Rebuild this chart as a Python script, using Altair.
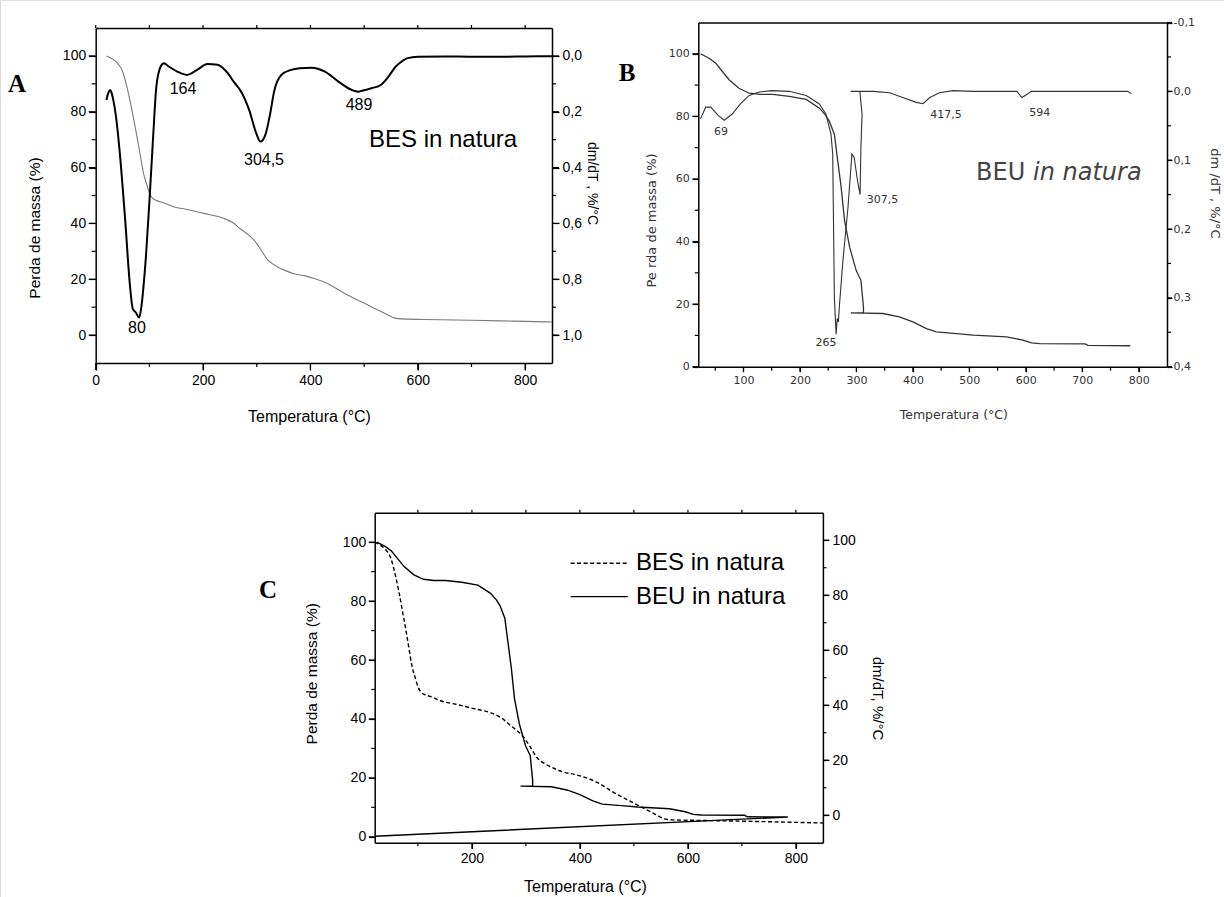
import altair as alt
import pandas as pd

# ---------------- values ----------------
# Panel A / C : BES in natura, mass loss (TG) and derivative (DTG)
bes_temp = [20, 30, 40, 50, 58, 65, 72, 77, 83, 89, 95, 100, 106, 111, 125, 145, 170, 201, 239, 255,
            270, 285, 295, 308, 320, 338, 355, 369, 390, 407, 432, 463, 494, 515, 538, 559, 580, 610, 700, 753,
            800, 850]
bes_mass = [100, 99, 97.5, 94.5, 89, 83, 76, 71, 64.5, 58, 54, 51, 49, 48.4, 47.5, 46, 45, 43.6, 41.8, 40.3,
            38, 35.8, 34, 30.5, 27, 24.5, 23, 22, 21.2, 20.3, 18.5, 15, 12, 10, 7.8, 6.0, 5.7, 5.6, 5.3, 5.1,
            4.9, 4.7]
bes_dtg_temp = [20, 24, 27, 30, 33, 38, 45, 55, 64, 69, 75, 81, 85, 89, 94, 101, 107, 113, 121, 127,
                136, 152, 170, 189, 208, 227, 246, 258, 271, 286, 299, 307, 316, 324, 333, 346, 364, 380, 402, 427,
                452, 477, 489, 496, 515, 531, 545, 559, 570, 581, 600, 650, 700, 750, 800, 850]
bes_dtg = [0.158, 0.13, 0.122, 0.135, 0.16, 0.22, 0.35, 0.59, 0.827, 0.905, 0.92, 0.937, 0.9, 0.827, 0.707,
           0.49, 0.289, 0.11, 0.038, 0.026, 0.038, 0.056, 0.068, 0.05, 0.029, 0.032, 0.062, 0.095, 0.128, 0.194,
           0.277, 0.307, 0.283, 0.217, 0.122, 0.068, 0.05, 0.044, 0.042, 0.056, 0.092, 0.122, 0.128, 0.125, 0.115,
           0.104, 0.075, 0.038, 0.02, 0.008, 0.003, 0.002, 0.003, 0.003, 0.002, 0.001]
bes_peak_temp = [76.9, 162.6, 313.5, 490.5]
bes_peak_dtg = [0.975, 0.1185, 0.373, 0.176]
bes_peak_text = ["80", "164", "304,5", "489"]
bes_name_temp = [647]
bes_name_dtg = [0.301]

# Panel B / C : BEU in natura (trace order as recorded, it doubles back near 300 °C)
beu_temp = [24, 40, 51, 62, 74.5, 92, 110, 130, 151.5, 181, 211, 234, 245, 252, 261, 267, 273, 279, 288, 299.5,
            308, 312.5, 312.5, 290, 347, 376, 400, 424, 441.5, 477, 507, 566, 595, 610, 625, 705, 710, 785]
beu_mass = [100, 98.5, 97, 94.5, 91.7, 89, 87.4, 87, 87, 86.4, 85.4, 82.7, 80.5, 78.5, 74.2, 65.7, 57.3, 46.7,
            38.2, 30.8, 27.6, 19.1, 17.2, 17.2, 17.0, 15.9, 14.3, 12.2, 11.1, 10.6, 10.1, 9.5, 8.5, 7.6, 7.4, 7.3,
            6.8, 6.7]
beu_dtg_temp = [24, 33, 42, 55, 66, 80, 95, 110, 128, 150, 181, 211, 234, 246, 255, 258, 261, 264, 266, 268,
                270, 276, 285, 292, 296, 302, 306.5, 308, 310, 306, 290, 330, 359, 382, 406, 418, 430, 447, 471,
                507, 584, 593, 601, 610, 700, 780, 787]
beu_dtg = [0.040, 0.023, 0.023, 0.035, 0.042, 0.033, 0.018, 0.006, 0.001, -0.001, 0.0, 0.006, 0.018, 0.033,
           0.062, 0.091, 0.30, 0.353, 0.33, 0.335, 0.31, 0.247, 0.169, 0.091, 0.096, 0.13, 0.150, 0.081, 0.033,
           0.0, 0.0, 0.0, 0.002, 0.009, 0.016, 0.018, 0.009, 0.002, -0.001, 0.0, 0.0, 0.009, 0.005, 0.0, 0.0,
           0.0, 0.003]
beu_peak_temp = [60.2, 246.1, 346.2, 458.6, 624.6]
beu_peak_mass = [75.1, 7.6, 53.3, 80.4, 81.2]
beu_peak_text = ["69", "265", "307,5", "417,5", "594"]
beu_name_temp = [511.8]
beu_name_italic_temp = [612.7]
beu_name_mass = [61.9]

# Panel C : the BEU trace closes with a segment back to the start
beu_c_tail_temp = [20]
beu_c_tail_mass = [0.2]
legend_names = ["BES in natura", "BEU in natura"]
legend_temp_start = [382.8, 382.8]
legend_temp_end = [488.7, 488.7]
legend_text_temp = [503.9, 503.9]
legend_level = [91.6, 79.5]

# panel letters
letter_text = ["A", "B", "C"]
letter_temp = [-146.6, -106.3, -177.6]
letter_level = [89.9, 93.9, 83.8]

# ---------------- layout / style ----------------
W, H = 1224, 897
SANS = "Liberation Sans"
SERIF = "Liberation Serif"
BFONT = "DejaVu Sans"
BGRAY = "#333333"

A_XR, A_YR = [95.7, 552.0], [363.0, 28.0]
B_XR, B_YR = [698.3, 1167.0], [366.7, 22.5]
C_XR, C_YR = [374.7, 822.9], [842.7, 512.7]


def sc(domain, rng):
    return alt.Scale(domain=domain, range=rng, zero=False, nice=False)


def ax(orient, offset, values=None, size_tick=6.0, expr=None, font=SANS, size=14, color="black",
       title=None, tx=0, ty=0, tsize=16, pad=3, labels=True):
    p = dict(orient=orient, offset=offset, grid=False, domain=True, ticks=True, tickSize=size_tick,
             tickColor="black", tickWidth=1.2, domainColor="black", domainWidth=1.5,
             labelFont=font, labelFontSize=size, labelColor=color,
             labelPadding=pad, labelOverlap=False, labelFlush=False, labels=labels)
    if values is not None:
        p["values"] = values
    if expr:
        p["labelExpr"] = expr
    if title:
        p.update(title=title, titleFont=font, titleFontSize=tsize, titleFontWeight="normal",
                 titleColor=color, titleX=tx, titleY=ty, titleAlign="center", titleBaseline="middle")
    else:
        p["title"] = None
    return alt.Axis(**p)


def ticks(values, fixed, xs, ys, side, length):
    """short tick marks drawn outward from a frame side, positioned by the panel scales"""
    if side in ("bottom", "top"):
        df = pd.DataFrame({"p": values, "q": [fixed] * len(values)})
        off = length / 2 if side == "bottom" else -length / 2
        return alt.Chart(df).mark_tick(orient="vertical", size=length, thickness=1.2, color="black",
                                       opacity=1, yOffset=off).encode(
            x=alt.X("p:Q", scale=xs, axis=None), y=alt.Y("q:Q", scale=ys, axis=None))
    df = pd.DataFrame({"q": [fixed] * len(values), "p": values})
    off = -length / 2 if side == "left" else length / 2
    return alt.Chart(df).mark_tick(orient="horizontal", size=length, thickness=1.2, color="black",
                                   opacity=1, xOffset=off).encode(
        x=alt.X("q:Q", scale=xs, axis=None), y=alt.Y("p:Q", scale=ys, axis=None))


COMMA = "replace(replace(format(datum.value, '.1f'), '.', ','), '\u2212', '-')"

layers = []

# ---------------- Panel A ----------------
dfA = pd.DataFrame({"T": bes_temp, "v": bes_mass})
dfAd = pd.DataFrame({"T": bes_dtg_temp, "d": bes_dtg})
AX = lambda: sc([0, 850], A_XR)
AYL = lambda: sc([-10, 110], A_YR)
AYR = lambda: sc([-0.1, 1.1], [28.0, 363.0])

layers.append(alt.Chart(dfA).mark_line(color="#7a7a7a", strokeWidth=1.1, interpolate="monotone").encode(
    x=alt.X("T:Q", scale=AX(), axis=ax("bottom", 363 - H, list(range(0, 801, 200)), 7,
                                        title="Temperatura (°C)", tx=309, ty=53.7)),
    y=alt.Y("v:Q", scale=AYL(), axis=ax("left", -95.7, list(range(0, 101, 20)), 7,
                                         title="Perda de massa (%)", tx=-60.7, ty=227.5, tsize=15.5)),
))
layers.append(alt.Chart(dfAd).mark_line(color="black", strokeWidth=2, interpolate="monotone").encode(
    x=alt.X("T:Q", scale=AX(), axis=ax("top", -28, [], 3, labels=False)),
    y=alt.Y("d:Q", scale=AYR(), axis=ax("right", 552 - W, [0.0, 0.2, 0.4, 0.6, 0.8, 1.0], 7, COMMA,
                                         title="dm/dT , %/°C", tx=39.7, ty=183, tsize=14)),
))
layers += [
    ticks(list(range(0, 801, 200)), -10, AX(), AYL(), "bottom", 7),
    ticks(list(range(100, 801, 200)), -10, AX(), AYL(), "bottom", 4),
    ticks(list(range(0, 801, 100)), 110, AX(), AYL(), "top", 3),
    ticks(list(range(0, 101, 20)), 0, AX(), AYL(), "left", 7),
    ticks(list(range(10, 100, 20)), 0, AX(), AYL(), "left", 4),
    ticks([0.0, 0.2, 0.4, 0.6, 0.8, 1.0], 850, AX(), AYR(), "right", 7),
    ticks([0.1, 0.3, 0.5, 0.7, 0.9], 850, AX(), AYR(), "right", 4),
]
layers.append(alt.Chart(pd.DataFrame({"T": bes_peak_temp, "d": bes_peak_dtg, "label": bes_peak_text}))
              .mark_text(font=SANS, fontSize=16, color="black").encode(
    x=alt.X("T:Q", scale=AX(), axis=None), y=alt.Y("d:Q", scale=AYR(), axis=None), text="label:N"))
layers.append(alt.Chart(pd.DataFrame({"T": bes_name_temp, "d": bes_name_dtg, "label": ["BES in natura"]}))
              .mark_text(font=SANS, fontSize=24, color="black").encode(
    x=alt.X("T:Q", scale=AX(), axis=None), y=alt.Y("d:Q", scale=AYR(), axis=None), text="label:N"))
layers.append(alt.Chart(pd.DataFrame({"T": letter_temp[:1], "v": letter_level[:1], "label": letter_text[:1]}))
              .mark_text(font=SERIF, fontSize=25, fontWeight="bold", color="black").encode(
    x=alt.X("T:Q", scale=AX(), axis=None), y=alt.Y("v:Q", scale=AYL(), axis=None), text="label:N"))

# ---------------- Panel B ----------------
dfB = pd.DataFrame({"T": beu_temp, "v": beu_mass, "i": range(len(beu_temp))})
dfBd = pd.DataFrame({"T": beu_dtg_temp, "d": beu_dtg, "i": range(len(beu_dtg_temp))})
BX = lambda: sc([20, 850], B_XR)
BYL = lambda: sc([0, 110], B_YR)
BYR = lambda: sc([-0.1, 0.4], [22.5, 366.7])

layers.append(alt.Chart(dfB).mark_line(color=BGRAY, strokeWidth=1.3).encode(
    x=alt.X("T:Q", scale=BX(), axis=ax("bottom", 366.7 - H, list(range(100, 801, 100)), 5, font=BFONT,
                                        size=11, color=BGRAY, title="Temperatura (°C)", tx=953.3, ty=47.3,
                                        tsize=12.5)),
    y=alt.Y("v:Q", scale=BYL(), axis=ax("left", -698.3, list(range(0, 101, 20)), 6, font=BFONT, size=11,
                                         color=BGRAY, title="Pe rda de massa (%)", tx=-46.6, ty=220, tsize=13)),
    order="i:Q",
))
layers.append(alt.Chart(dfBd).mark_line(color=BGRAY, strokeWidth=1.1).encode(
    x=alt.X("T:Q", scale=BX(), axis=ax("top", -22.5, [], 0, labels=False)),
    y=alt.Y("d:Q", scale=BYR(), axis=ax("right", 1167 - W, [-0.1, 0.0, 0.1, 0.2, 0.3, 0.4], 5, COMMA,
                                         font=BFONT, size=11, color=BGRAY, title="dm /dT , %/°C", tx=47.8,
                                         ty=193, tsize=13, pad=1)),
    order="i:Q",
))
layers += [
    ticks(list(range(100, 801, 100)), 0, BX(), BYL(), "bottom", 5),
    ticks(list(range(50, 801, 100)), 0, BX(), BYL(), "bottom", 4),
    ticks(list(range(0, 101, 20)), 20, BX(), BYL(), "left", 6),
    ticks(list(range(10, 100, 20)), 20, BX(), BYL(), "left", 3.5),
    ticks([-0.1, 0.0, 0.1, 0.2, 0.3, 0.4], 850, BX(), BYR(), "right", 5),
    ticks([-0.05, 0.05, 0.15, 0.25, 0.35], 850, BX(), BYR(), "right", 4),
]
layers.append(alt.Chart(pd.DataFrame({"T": beu_peak_temp, "v": beu_peak_mass, "label": beu_peak_text}))
              .mark_text(font=BFONT, fontSize=11, color=BGRAY).encode(
    x=alt.X("T:Q", scale=BX(), axis=None), y=alt.Y("v:Q", scale=BYL(), axis=None), text="label:N"))
layers.append(alt.Chart(pd.DataFrame({"T": beu_name_temp, "v": beu_name_mass, "label": ["BEU"]}))
              .mark_text(font=BFONT, fontSize=24, color="#444444", align="left").encode(
    x=alt.X("T:Q", scale=BX(), axis=None), y=alt.Y("v:Q", scale=BYL(), axis=None), text="label:N"))
layers.append(alt.Chart(pd.DataFrame({"T": beu_name_italic_temp, "v": beu_name_mass, "label": ["in natura"]}))
              .mark_text(font=BFONT, fontSize=24, fontStyle="italic", color="#444444", align="left").encode(
    x=alt.X("T:Q", scale=BX(), axis=None), y=alt.Y("v:Q", scale=BYL(), axis=None), text="label:N"))
layers.append(alt.Chart(pd.DataFrame({"T": letter_temp[1:2], "v": letter_level[1:2], "label": letter_text[1:2]}))
              .mark_text(font=SERIF, fontSize=25, fontWeight="bold", color="black").encode(
    x=alt.X("T:Q", scale=BX(), axis=None), y=alt.Y("v:Q", scale=BYL(), axis=None), text="label:N"))

# ---------------- Panel C ----------------
dfCs = pd.DataFrame({"T": bes_temp, "v": bes_mass})
cu_t = beu_temp + beu_c_tail_temp
cu_v = beu_mass + beu_c_tail_mass
dfCu = pd.DataFrame({"T": cu_t, "v": cu_v, "i": range(len(cu_t))})
CX = lambda: sc([20, 850], C_XR)
CYL = lambda: sc([-2, 110], C_YR)
CYR = lambda: sc([-10, 110], C_YR)

layers.append(alt.Chart(dfCs).mark_line(color="black", strokeWidth=1.4, strokeDash=[4, 2.5],
                                        interpolate="monotone").encode(
    x=alt.X("T:Q", scale=CX(), axis=ax("bottom", 842.7 - H, [200, 400, 600, 800], 6,
                                        title="Temperatura (°C)", tx=585, ty=44)),
    y=alt.Y("v:Q", scale=CYL(), axis=ax("left", -374.7, list(range(0, 101, 20)), 6,
                                         title="Perda de massa (%)", tx=-63, ty=673.3, tsize=15.5)),
))
layers.append(alt.Chart(dfCu).mark_line(color="black", strokeWidth=1.4).encode(
    x=alt.X("T:Q", scale=CX(), axis=ax("top", -512.7, [], 3, labels=False)),
    y=alt.Y("v:Q", scale=CYL(), axis=None),
    order="i:Q",
))
dfLeg = pd.DataFrame({"T0": legend_temp_start, "T1": legend_temp_end, "y": legend_level, "name": legend_names})
layers.append(alt.Chart(dfLeg).mark_rule(color="black", strokeWidth=1.4).encode(
    x=alt.X("T0:Q", scale=CX(), axis=None), x2="T1:Q",
    y=alt.Y("y:Q", scale=CYR(), axis=ax("right", 822.9 - W, list(range(0, 101, 20)), 6,
                                         title="dm/dT, %/°C", tx=54.4, ty=698, tsize=15)),
    strokeDash=alt.StrokeDash("name:N", scale=alt.Scale(domain=legend_names, range=[[4, 2.5], [1, 0]]),
                              legend=None),
))
layers += [
    ticks([200, 400, 600, 800], -2, CX(), CYL(), "bottom", 6),
    ticks([100, 300, 500, 700], -2, CX(), CYL(), "bottom", 3.5),
    ticks(list(range(100, 801, 100)), 110, CX(), CYL(), "top", 3),
    ticks(list(range(0, 101, 20)), 20, CX(), CYL(), "left", 6),
    ticks(list(range(10, 100, 20)), 20, CX(), CYL(), "left", 3.5),
    ticks(list(range(0, 101, 20)), 850, CX(), CYR(), "right", 6),
    ticks(list(range(10, 100, 20)), 850, CX(), CYR(), "right", 3.5),
]
layers.append(alt.Chart(pd.DataFrame({"T": legend_text_temp, "y": legend_level, "label": legend_names}))
              .mark_text(font=SANS, fontSize=24, color="black", align="left").encode(
    x=alt.X("T:Q", scale=CX(), axis=None), y=alt.Y("y:Q", scale=CYR(), axis=None), text="label:N"))
layers.append(alt.Chart(pd.DataFrame({"T": letter_temp[2:], "v": letter_level[2:], "label": letter_text[2:]}))
              .mark_text(font=SERIF, fontSize=25, fontWeight="bold", color="black").encode(
    x=alt.X("T:Q", scale=CX(), axis=None), y=alt.Y("v:Q", scale=CYL(), axis=None), text="label:N"))

chart = (alt.layer(*layers)
         .resolve_scale(x="independent", y="independent")
         .properties(width=W, height=H, autosize=alt.AutoSizeParams(type="none"), padding=0)
         .configure_view(stroke=None)
         .configure(background="white"))

chart.save("out.html", embed_options={"renderer": "svg", "actions": False})
